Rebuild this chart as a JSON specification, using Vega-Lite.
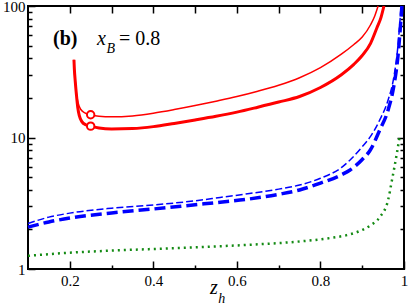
{
  "$schema": "https://vega.github.io/schema/vega-lite/v6.json",
  "width": 376,
  "height": 263,
  "autosize": {"type": "none"},
  "padding": {"left": 28, "top": 6, "right": 5, "bottom": 38},
  "background": "white",
  "config": {
    "font": "Liberation Serif",
    "view": {"stroke": "black", "strokeWidth": 2},
    "axis": {"grid": false, "domain": false, "labelFont": "Liberation Serif", "labelFontSize": 15, "labelColor": "black", "tickColor": "black", "tickWidth": 1.5, "labelFlush": false, "labelOverlap": false, "labelBound": false},
    "text": {"font": "Liberation Serif", "color": "black"}
  },
  "datasets": {
    "curves": [
      {"s": "redThin", "z": 0.21, "v": 39}, {"s": "redThin", "z": 0.211, "v": 33}, {"s": "redThin", "z": 0.213, "v": 27}, {"s": "redThin", "z": 0.216, "v": 21.5}, {"s": "redThin", "z": 0.22, "v": 18.3}, {"s": "redThin", "z": 0.226, "v": 16.4}, {"s": "redThin", "z": 0.236, "v": 15.4}, {"s": "redThin", "z": 0.25, "v": 14.9}, {"s": "redThin", "z": 0.27, "v": 14.5}, {"s": "redThin", "z": 0.3, "v": 14.35}, {"s": "redThin", "z": 0.35, "v": 14.6}, {"s": "redThin", "z": 0.4, "v": 15.3}, {"s": "redThin", "z": 0.45, "v": 16.3}, {"s": "redThin", "z": 0.5, "v": 17.5}, {"s": "redThin", "z": 0.55, "v": 18.9}, {"s": "redThin", "z": 0.6, "v": 20.5}, {"s": "redThin", "z": 0.65, "v": 22.5}, {"s": "redThin", "z": 0.7, "v": 25}, {"s": "redThin", "z": 0.75, "v": 28.5}, {"s": "redThin", "z": 0.8, "v": 34}, {"s": "redThin", "z": 0.85, "v": 43}, {"s": "redThin", "z": 0.88, "v": 51}, {"s": "redThin", "z": 0.9, "v": 58}, {"s": "redThin", "z": 0.92, "v": 72}, {"s": "redThin", "z": 0.93, "v": 84}, {"s": "redThin", "z": 0.938, "v": 100},
      {"s": "redThick", "z": 0.21, "v": 39}, {"s": "redThick", "z": 0.211, "v": 33}, {"s": "redThick", "z": 0.213, "v": 27}, {"s": "redThick", "z": 0.216, "v": 21}, {"s": "redThick", "z": 0.219, "v": 17}, {"s": "redThick", "z": 0.223, "v": 14.6}, {"s": "redThick", "z": 0.229, "v": 13.2}, {"s": "redThick", "z": 0.238, "v": 12.5}, {"s": "redThick", "z": 0.25, "v": 12.2}, {"s": "redThick", "z": 0.27, "v": 11.8}, {"s": "redThick", "z": 0.3, "v": 11.6}, {"s": "redThick", "z": 0.35, "v": 11.7}, {"s": "redThick", "z": 0.4, "v": 12.1}, {"s": "redThick", "z": 0.45, "v": 12.8}, {"s": "redThick", "z": 0.5, "v": 13.6}, {"s": "redThick", "z": 0.55, "v": 14.5}, {"s": "redThick", "z": 0.6, "v": 15.6}, {"s": "redThick", "z": 0.65, "v": 17}, {"s": "redThick", "z": 0.7, "v": 18.6}, {"s": "redThick", "z": 0.75, "v": 20.5}, {"s": "redThick", "z": 0.8, "v": 24}, {"s": "redThick", "z": 0.85, "v": 30}, {"s": "redThick", "z": 0.88, "v": 36}, {"s": "redThick", "z": 0.9, "v": 42}, {"s": "redThick", "z": 0.92, "v": 52}, {"s": "redThick", "z": 0.935, "v": 68}, {"s": "redThick", "z": 0.945, "v": 82}, {"s": "redThick", "z": 0.952, "v": 100},
      {"s": "blueThin", "z": 0.1, "v": 2.22}, {"s": "blueThin", "z": 0.15, "v": 2.48}, {"s": "blueThin", "z": 0.2, "v": 2.66}, {"s": "blueThin", "z": 0.3, "v": 2.9}, {"s": "blueThin", "z": 0.4, "v": 3.07}, {"s": "blueThin", "z": 0.5, "v": 3.3}, {"s": "blueThin", "z": 0.56, "v": 3.5}, {"s": "blueThin", "z": 0.63, "v": 3.75}, {"s": "blueThin", "z": 0.7, "v": 4.05}, {"s": "blueThin", "z": 0.75, "v": 4.35}, {"s": "blueThin", "z": 0.8, "v": 4.9}, {"s": "blueThin", "z": 0.85, "v": 5.9}, {"s": "blueThin", "z": 0.871, "v": 6.75}, {"s": "blueThin", "z": 0.9, "v": 8.5}, {"s": "blueThin", "z": 0.919, "v": 10.1}, {"s": "blueThin", "z": 0.942, "v": 13.6}, {"s": "blueThin", "z": 0.962, "v": 19.3}, {"s": "blueThin", "z": 0.975, "v": 28}, {"s": "blueThin", "z": 0.985, "v": 48}, {"s": "blueThin", "z": 0.993, "v": 100},
      {"s": "blueThick", "z": 0.1, "v": 2.08}, {"s": "blueThick", "z": 0.15, "v": 2.28}, {"s": "blueThick", "z": 0.2, "v": 2.44}, {"s": "blueThick", "z": 0.3, "v": 2.67}, {"s": "blueThick", "z": 0.4, "v": 2.86}, {"s": "blueThick", "z": 0.5, "v": 3.08}, {"s": "blueThick", "z": 0.56, "v": 3.22}, {"s": "blueThick", "z": 0.63, "v": 3.41}, {"s": "blueThick", "z": 0.7, "v": 3.7}, {"s": "blueThick", "z": 0.75, "v": 3.99}, {"s": "blueThick", "z": 0.8, "v": 4.5}, {"s": "blueThick", "z": 0.85, "v": 5.2}, {"s": "blueThick", "z": 0.871, "v": 5.66}, {"s": "blueThick", "z": 0.9, "v": 6.8}, {"s": "blueThick", "z": 0.919, "v": 8.0}, {"s": "blueThick", "z": 0.942, "v": 11.4}, {"s": "blueThick", "z": 0.962, "v": 16.2}, {"s": "blueThick", "z": 0.975, "v": 24}, {"s": "blueThick", "z": 0.985, "v": 40}, {"s": "blueThick", "z": 0.995, "v": 100},
      {"s": "green", "z": 0.1, "v": 1.26}, {"s": "green", "z": 0.2, "v": 1.33}, {"s": "green", "z": 0.3, "v": 1.38}, {"s": "green", "z": 0.4, "v": 1.42}, {"s": "green", "z": 0.5, "v": 1.46}, {"s": "green", "z": 0.56, "v": 1.49}, {"s": "green", "z": 0.65, "v": 1.54}, {"s": "green", "z": 0.75, "v": 1.62}, {"s": "green", "z": 0.823, "v": 1.72}, {"s": "green", "z": 0.863, "v": 1.81}, {"s": "green", "z": 0.895, "v": 1.95}, {"s": "green", "z": 0.92, "v": 2.15}, {"s": "green", "z": 0.942, "v": 2.48}, {"s": "green", "z": 0.962, "v": 3.35}, {"s": "green", "z": 0.971, "v": 4.7}, {"s": "green", "z": 0.983, "v": 7.6}, {"s": "green", "z": 0.99, "v": 10.4}
    ],
    "circles": [{"z": 0.25, "v": 14.9}, {"z": 0.25, "v": 12.2}]
  },
  "resolve": {"axis": {"x": "independent", "y": "independent"}},
  "layer": [
    {
      "data": {"name": "curves"},
      "transform": [{"filter": "datum.s == 'redThin'"}],
      "mark": {"type": "line", "color": "#ff0000", "strokeWidth": 1.5, "interpolate": "monotone"},
      "encoding": {
        "x": {"field": "z", "type": "quantitative", "scale": {"domain": [0.1, 1], "nice": false, "zero": false},
              "axis": {"orient": "bottom", "title": null, "values": [0.2, 0.4, 0.6, 0.8, 1], "format": ".1~f", "tickSize": -8, "labelPadding": 12, "labelFont": "Liberation Serif"}},
        "y": {"field": "v", "type": "quantitative", "scale": {"type": "log", "domain": [1, 100], "nice": false},
              "axis": {"orient": "left", "title": null, "values": [1, 10, 100], "format": "d", "tickSize": -7, "labelPadding": 10, "labelFont": "Liberation Serif"}},
        "order": {"field": "z", "type": "quantitative"}
      }
    },
    {
      "data": {"name": "curves"},
      "transform": [{"filter": "datum.s == 'redThick'"}],
      "mark": {"type": "line", "color": "#ff0000", "strokeWidth": 3, "interpolate": "monotone"},
      "encoding": {
        "x": {"field": "z", "type": "quantitative", "scale": {"domain": [0.1, 1], "nice": false, "zero": false},
              "axis": {"orient": "bottom", "title": null, "values": [0.3, 0.5, 0.7, 0.9], "labels": false, "tickSize": -4}},
        "y": {"field": "v", "type": "quantitative", "scale": {"type": "log", "domain": [1, 100], "nice": false},
              "axis": {"orient": "left", "title": null, "values": [2, 3, 4, 5, 6, 7, 8, 9, 20, 30, 40, 50, 60, 70, 80, 90], "labels": false, "tickSize": -4}},
        "order": {"field": "z", "type": "quantitative"}
      }
    },
    {
      "data": {"name": "curves"},
      "transform": [{"filter": "datum.s == 'blueThin'"}],
      "mark": {"type": "line", "color": "#0000ff", "strokeWidth": 1.5, "strokeDash": [7, 3], "interpolate": "monotone"},
      "encoding": {
        "x": {"field": "z", "type": "quantitative", "scale": {"domain": [0.1, 1], "nice": false, "zero": false},
              "axis": {"orient": "top", "title": null, "values": [0.2, 0.3, 0.4, 0.5, 0.6, 0.7, 0.8, 0.9], "labels": false, "tickSize": -7}},
        "y": {"field": "v", "type": "quantitative", "scale": {"type": "log", "domain": [1, 100], "nice": false},
              "axis": {"orient": "right", "title": null, "values": [10], "labels": false, "tickSize": -7}},
        "order": {"field": "z", "type": "quantitative"}
      }
    },
    {
      "data": {"name": "curves"},
      "transform": [{"filter": "datum.s == 'blueThick'"}],
      "mark": {"type": "line", "color": "#0000ff", "strokeWidth": 3.5, "strokeDash": [11, 5], "interpolate": "monotone"},
      "encoding": {
        "x": {"field": "z", "type": "quantitative", "scale": {"domain": [0.1, 1], "nice": false, "zero": false}, "axis": null},
        "y": {"field": "v", "type": "quantitative", "scale": {"type": "log", "domain": [1, 100], "nice": false},
              "axis": {"orient": "right", "title": null, "values": [2, 3, 4, 5, 6, 7, 8, 9, 20, 30, 40, 50, 60, 70, 80, 90], "labels": false, "tickSize": -4}},
        "order": {"field": "z", "type": "quantitative"}
      }
    },
    {
      "data": {"name": "curves"},
      "transform": [{"filter": "datum.s == 'green'"}],
      "mark": {"type": "line", "color": "#138a13", "strokeWidth": 2.5, "strokeDash": [2, 4], "interpolate": "monotone"},
      "encoding": {
        "x": {"field": "z", "type": "quantitative", "scale": {"domain": [0.1, 1], "nice": false, "zero": false}, "axis": null},
        "y": {"field": "v", "type": "quantitative", "scale": {"type": "log", "domain": [1, 100], "nice": false}, "axis": null},
        "order": {"field": "z", "type": "quantitative"}
      }
    },
    {
      "data": {"name": "circles"},
      "mark": {"type": "point", "shape": "circle", "size": 55, "stroke": "#ff0000", "strokeWidth": 2, "fill": "white", "filled": false, "opacity": 1, "fillOpacity": 1},
      "encoding": {
        "x": {"field": "z", "type": "quantitative", "scale": {"domain": [0.1, 1], "nice": false, "zero": false}, "axis": null},
        "y": {"field": "v", "type": "quantitative", "scale": {"type": "log", "domain": [1, 100], "nice": false}, "axis": null}
      }
    },
    {
      "data": {"values": [{"z": 0.16, "v": 50.5, "t": "(b)"}]},
      "mark": {"type": "text", "align": "left", "baseline": "alphabetic", "fontSize": 20, "fontWeight": "bold", "font": "Liberation Serif"},
      "encoding": {
        "x": {"field": "z", "type": "quantitative", "scale": {"domain": [0.1, 1], "nice": false, "zero": false}, "axis": null},
        "y": {"field": "v", "type": "quantitative", "scale": {"type": "log", "domain": [1, 100], "nice": false}, "axis": null},
        "text": {"field": "t"}
      }
    },
    {
      "data": {"values": [{"z": 0.265, "v": 50.5, "t": "x"}, {"z": 0.5356, "v": 0.645, "t": "z"}]},
      "mark": {"type": "text", "align": "left", "baseline": "alphabetic", "fontSize": 20, "fontStyle": "italic", "font": "Liberation Serif"},
      "encoding": {
        "x": {"field": "z", "type": "quantitative", "scale": {"domain": [0.1, 1], "nice": false, "zero": false}, "axis": null},
        "y": {"field": "v", "type": "quantitative", "scale": {"type": "log", "domain": [1, 100], "nice": false}, "axis": null},
        "text": {"field": "t"}
      }
    },
    {
      "data": {"values": [{"z": 0.288, "v": 43.9, "t": "B"}, {"z": 0.5555, "v": 0.551, "t": "h"}]},
      "mark": {"type": "text", "align": "left", "baseline": "alphabetic", "fontSize": 14, "fontStyle": "italic", "font": "Liberation Serif"},
      "encoding": {
        "x": {"field": "z", "type": "quantitative", "scale": {"domain": [0.1, 1], "nice": false, "zero": false}, "axis": null},
        "y": {"field": "v", "type": "quantitative", "scale": {"type": "log", "domain": [1, 100], "nice": false}, "axis": null},
        "text": {"field": "t"}
      }
    },
    {
      "data": {"values": [{"z": 0.318, "v": 50.5, "t": "= 0.8"}]},
      "mark": {"type": "text", "align": "left", "baseline": "alphabetic", "fontSize": 20, "font": "Liberation Serif"},
      "encoding": {
        "x": {"field": "z", "type": "quantitative", "scale": {"domain": [0.1, 1], "nice": false, "zero": false}, "axis": null},
        "y": {"field": "v", "type": "quantitative", "scale": {"type": "log", "domain": [1, 100], "nice": false}, "axis": null},
        "text": {"field": "t"}
      }
    }
  ]
}
